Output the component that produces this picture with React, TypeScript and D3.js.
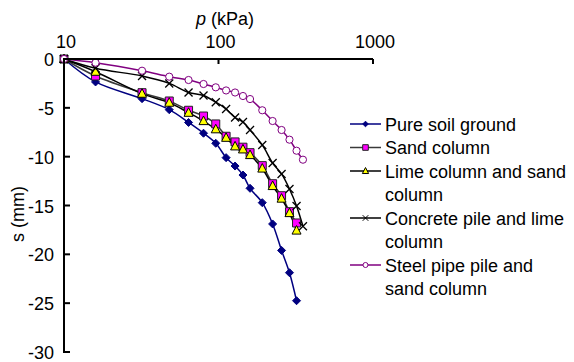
import { useEffect, useRef } from 'react';
import * as d3 from 'd3';

// loads (kPa)
const loads = [10, 16, 32, 48, 64, 80, 96, 112, 128, 144, 160, 192, 224, 256, 288, 320, 352];

// settlement (mm) per series
const pureSoil = [0, -2.35, -4.06, -5.19, -6.5, -7.6, -8.63, -10.1, -10.96, -11.88, -13.24, -14.71, -16.89, -19.6, -21.88, -24.75];
const sandColumn = [0, -1.74, -3.45, -4.3, -5.25, -5.84, -6.65, -7.91, -8.49, -9.03, -9.59, -10.92, -12.77, -14.0, -15.63, -16.79];
const limeSand = [0, -1.3, -3.55, -4.47, -5.5, -6.35, -7.19, -8.06, -8.94, -9.25, -9.83, -11.21, -13.0, -14.29, -15.77, -17.56];
const concreteLime = [0, -0.95, -1.74, -2.5, -3.43, -3.74, -4.42, -5.12, -5.99, -6.45, -7.27, -8.8, -10.65, -11.77, -13.31, -15.05, -17.13];
const steelSand = [0, -0.38, -1.2, -1.81, -2.15, -2.56, -2.9, -3.22, -3.43, -3.79, -4.1, -5.25, -6.35, -7.27, -8.26, -9.39, -10.31];

const xTicks = [10, 100, 1000];
const yTicks = [0, -5, -10, -15, -20, -25, -30];

type Marker = 'diamond' | 'square' | 'triangle' | 'cross' | 'circle';

const series: { name: string[]; values: number[]; color: string; marker: Marker; fill: string; stroke: string }[] = [
  { name: ['Pure soil ground'], values: pureSoil, color: '#000080', marker: 'diamond', fill: '#000080', stroke: '#000080' },
  { name: ['Sand column'], values: sandColumn, color: '#3a3a3a', marker: 'square', fill: '#ff00ff', stroke: '#222' },
  { name: ['Lime column and sand', 'column'], values: limeSand, color: '#000', marker: 'triangle', fill: '#ffff00', stroke: '#000' },
  { name: ['Concrete pile and lime', 'column'], values: concreteLime, color: '#000', marker: 'cross', fill: 'none', stroke: '#000' },
  { name: ['Steel pipe pile and', 'sand column'], values: steelSand, color: '#800080', marker: 'circle', fill: '#fff', stroke: '#800080' },
];

const markerPath = (m: Marker, r: number): string => {
  switch (m) {
    case 'diamond':
      return `M0,${-r}L${r},0L0,${r}L${-r},0Z`;
    case 'square':
      return `M${-r},${-r}H${r}V${r}H${-r}Z`;
    case 'triangle':
      return `M0,${-r * 1.1}L${r},${r * 0.8}L${-r},${r * 0.8}Z`;
    case 'cross':
      return `M${-r},${-r}L${r},${r}M${-r},${r}L${r},${-r}`;
    default:
      return `M${r},0A${r},${r} 0 1,1 ${-r},0A${r},${r} 0 1,1 ${r},0Z`;
  }
};

const markerSize: Record<Marker, number> = { diamond: 4, square: 4, triangle: 4.5, cross: 4, circle: 3.6 };

export default function App() {
  const svgRef = useRef<SVGSVGElement>(null);
  const width = 574;
  const height = 362;

  useEffect(() => {
    document.body.style.margin = '0';
    if (!svgRef.current) return;
    const svg = d3.select(svgRef.current);
    svg.selectAll('*').remove();

    const font = '"Liberation Sans", Arial, sans-serif';

    const x = d3.scaleLog().domain([10, 1000]).range([64, 373]);
    const y = d3.scaleLinear().domain([0, -30]).range([59, 352]);

    const g = svg.append('g');

    // lines
    const line = d3.line<number>()
      .x((_, i) => x(loads[i]))
      .y(d => y(d))
      .curve(d3.curveCatmullRom.alpha(0.5));

    series.forEach(s => {
      g.append('path')
        .attr('d', line(s.values))
        .attr('fill', 'none')
        .attr('stroke', s.color)
        .attr('stroke-width', 1.5);
    });

    // markers
    series.forEach(s => {
      g.selectAll(null)
        .data(s.values)
        .enter()
        .append('path')
        .attr('transform', (d, i) => `translate(${x(loads[i])},${y(d)})`)
        .attr('d', markerPath(s.marker, markerSize[s.marker]))
        .attr('fill', s.fill)
        .attr('stroke', s.stroke)
        .attr('stroke-width', s.marker === 'cross' ? 1.3 : 1);
    });

    // axes
    const axisG = svg.append('g');
    axisG.append('line')
      .attr('x1', x(10)).attr('x2', x(1000))
      .attr('y1', y(0)).attr('y2', y(0))
      .attr('stroke', '#000').attr('stroke-width', 2);
    axisG.append('line')
      .attr('x1', x(10)).attr('x2', x(10))
      .attr('y1', y(0) - 1).attr('y2', y(-30) + 1)
      .attr('stroke', '#000').attr('stroke-width', 2);

    xTicks.forEach(t => {
      axisG.append('line')
        .attr('x1', x(t)).attr('x2', x(t))
        .attr('y1', y(0)).attr('y2', y(0) + 5)
        .attr('stroke', '#000').attr('stroke-width', 2);
      axisG.append('text')
        .attr('x', x(t) + 2)
        .attr('y', y(0) - 11)
        .attr('text-anchor', 'middle')
        .attr('font-family', font)
        .attr('font-size', 18)
        .text(String(t));
    });

    yTicks.forEach(t => {
      axisG.append('line')
        .attr('x1', x(10)).attr('x2', x(10) + 6)
        .attr('y1', y(t)).attr('y2', y(t))
        .attr('stroke', '#000').attr('stroke-width', 2);
      axisG.append('text')
        .attr('x', x(10) - 10)
        .attr('y', y(t) + 7)
        .attr('text-anchor', 'end')
        .attr('font-family', font)
        .attr('font-size', 18)
        .text(String(t));
    });

    // axis titles
    const xt = svg.append('text')
      .attr('x', 225)
      .attr('y', 25)
      .attr('text-anchor', 'middle')
      .attr('font-family', font)
      .attr('font-size', 18);
    xt.append('tspan').attr('font-style', 'italic').text('p');
    xt.append('tspan').text(' (kPa)');

    svg.append('text')
      .attr('transform', 'translate(24,214) rotate(-90)')
      .attr('text-anchor', 'middle')
      .attr('font-family', font)
      .attr('font-size', 18)
      .text('s (mm)');

    // legend
    const lineH = 23.5;
    let row = 0;
    const leg = svg.append('g');
    series.forEach(s => {
      const ly = 124 + row * lineH;
      leg.append('line')
        .attr('x1', 350).attr('x2', 381)
        .attr('y1', ly).attr('y2', ly)
        .attr('stroke', s.color).attr('stroke-width', 1.5);
      leg.append('path')
        .attr('transform', `translate(365.5,${ly})`)
        .attr('d', markerPath(s.marker, markerSize[s.marker] * 0.7))
        .attr('fill', s.fill)
        .attr('stroke', s.stroke)
        .attr('stroke-width', 1);
      s.name.forEach((n, k) => {
        leg.append('text')
          .attr('x', 385)
          .attr('y', ly + k * lineH + 6.5)
          .attr('font-family', font)
          .attr('font-size', 18)
          .text(n);
      });
      row += s.name.length;
    });
  }, []);

  return (
    <svg ref={svgRef} width={width} height={height} style={{ display: 'block', background: '#fff' }}></svg>
  );
}
